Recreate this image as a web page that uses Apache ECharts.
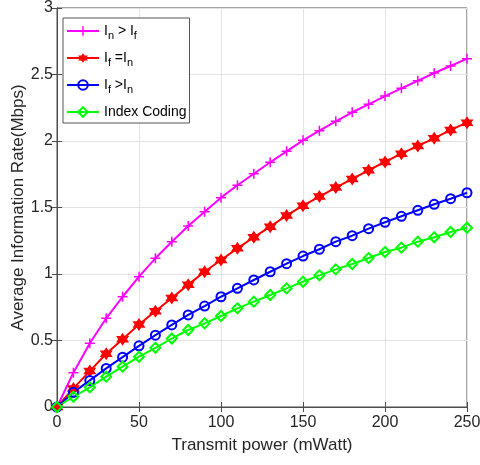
<!DOCTYPE html>
<html>
<head>
<meta charset="utf-8">
<script src="https://cdn.jsdelivr.net/npm/echarts@6/dist/echarts.min.js"></script>
<style>html,body{margin:0;padding:0;background:#fff}#c{width:480px;height:465px}</style>
</head>
<body>
<div id="c"></div>
<script>
const power = [0,10,20,30,40,50,60,70,80,90,100,110,120,130,140,150,160,170,180,190,200,210,220,230,240,250];
const nGreaterF = [0,0.258,0.479,0.667,0.829,0.98,1.118,1.243,1.361,1.468,1.574,1.667,1.754,1.84,1.922,2.005,2.078,2.148,2.216,2.276,2.338,2.396,2.453,2.511,2.564,2.619];
const fEqualN = [0,0.14,0.27,0.40,0.51,0.62,0.72,0.82,0.92,1.017,1.105,1.193,1.276,1.356,1.44,1.514,1.582,1.65,1.715,1.78,1.843,1.905,1.963,2.02,2.083,2.138];
const fGreaterN = [0,0.11,0.20,0.29,0.375,0.46,0.54,0.617,0.692,0.759,0.829,0.892,0.955,1.017,1.078,1.135,1.186,1.243,1.288,1.341,1.389,1.434,1.479,1.524,1.566,1.611];
const indexCoding = [0,0.077,0.148,0.228,0.303,0.378,0.445,0.515,0.579,0.629,0.684,0.742,0.792,0.842,0.892,0.942,0.99,1.035,1.075,1.12,1.165,1.198,1.243,1.276,1.316,1.348];
const seriesNames = ['I{s|n} > I{s|f}', 'I{s|f} =I{s|n}', 'I{s|f} >I{s|n}', 'Index Coding'];
const xTitle = 'Transmit power (mWatt)';
const yTitle = 'Average Information Rate(Mbps)';

const plusPath = 'path://M-0.9,-6 L0.9,-6 L0.9,-0.9 L6,-0.9 L6,0.9 L0.9,0.9 L0.9,6 L-0.9,6 L-0.9,0.9 L-6,0.9 L-6,-0.9 L-0.9,-0.9 Z';
const hexPath = 'path://M0,-10 L2.887,-5 L8.66,-5 L5.774,0 L8.66,5 L2.887,5 L0,10 L-2.887,5 L-8.66,5 L-5.774,0 L-8.66,-5 L-2.887,-5 Z';

const font = 'Liberation Sans, Arial, sans-serif';
const axisCol = '#4d4d4d';
const txtCol = '#262626';

function mk(name, data, color, symbol, size, hollow) {
  return {
    name: name, type: 'line',
    data: power.map((p, i) => [p, data[i]]),
    symbol: symbol, symbolSize: size, showSymbol: true,
    lineStyle: {color: color, width: 2},
    itemStyle: hollow ? {color: 'rgba(255,255,255,0)', borderColor: color, borderWidth: 2} : {color: color, borderWidth: 0},
    color: color,
    emphasis: {disabled: true},
    animation: false, z: 3
  };
}

const chart = echarts.init(document.getElementById('c'), null, {renderer: 'canvas'});
chart.setOption({
  animation: false,
  backgroundColor: '#fff',
  grid: {left: 57, right: 13, top: 8, bottom: 58, containLabel: false, outerBoundsMode: 'none', show: true, borderColor: axisCol, borderWidth: 1, backgroundColor: '#fff'},
  legend: {
    left: 63, top: 18, orient: 'vertical', itemGap: 10, itemWidth: 32, itemHeight: 12,
    backgroundColor: '#fff', borderColor: '#555', borderWidth: 1, padding: [6, 3, 4, 3],
    data: seriesNames,
    formatter: n => n,
    textStyle: {fontFamily: font, fontSize: 14, color: '#000', rich: {s: {fontFamily: font, fontSize: 11, color: '#000', verticalAlign: 'bottom', padding: [9, 0, 0, 0]}}}
  },
  xAxis: [{
    type: 'value', min: 0, max: 250, interval: 50,
    name: xTitle, nameLocation: 'middle', nameGap: 30, nameMoveOverlap: false,
    nameTextStyle: {fontFamily: font, fontSize: 17, color: txtCol},
    axisLine: {show: true, onZero: false, lineStyle: {color: axisCol}},
    axisTick: {show: true, inside: true, length: 5, lineStyle: {color: axisCol}},
    axisLabel: {fontFamily: font, fontSize: 16, color: txtCol, margin: 8},
    splitLine: {show: true, lineStyle: {color: '#e3e3e3', width: 1}}
  }, {
    type: 'value', position: 'top', min: 0, max: 250, interval: 50,
    axisLine: {show: true, lineStyle: {color: axisCol}},
    axisTick: {show: true, inside: true, length: 5, lineStyle: {color: axisCol}},
    axisLabel: {show: false}, splitLine: {show: false}
  }],
  yAxis: [{
    type: 'value', min: 0, max: 3, interval: 0.5,
    name: yTitle, nameLocation: 'middle', nameGap: 30, nameMoveOverlap: false,
    nameTextStyle: {fontFamily: font, fontSize: 17, color: txtCol},
    axisLine: {show: true, onZero: false, lineStyle: {color: axisCol}},
    axisTick: {show: true, inside: true, length: 5, lineStyle: {color: axisCol}},
    axisLabel: {fontFamily: font, fontSize: 16, color: txtCol, margin: 4},
    splitLine: {show: true, lineStyle: {color: '#e3e3e3', width: 1}}
  }, {
    type: 'value', position: 'right', min: 0, max: 3, interval: 0.5,
    axisLine: {show: true, lineStyle: {color: axisCol}},
    axisTick: {show: true, inside: true, length: 5, lineStyle: {color: axisCol}},
    axisLabel: {show: false}, splitLine: {show: false}
  }],
  series: [
    mk(seriesNames[0], nGreaterF, '#ff00ff', plusPath, 10, false),
    mk(seriesNames[1], fEqualN, '#ff0000', hexPath, 13, false),
    mk(seriesNames[2], fGreaterN, '#0000ff', 'circle', 9, true),
    mk(seriesNames[3], indexCoding, '#00ff00', 'diamond', 10, true)
  ]
});
</script>
</body>
</html>
